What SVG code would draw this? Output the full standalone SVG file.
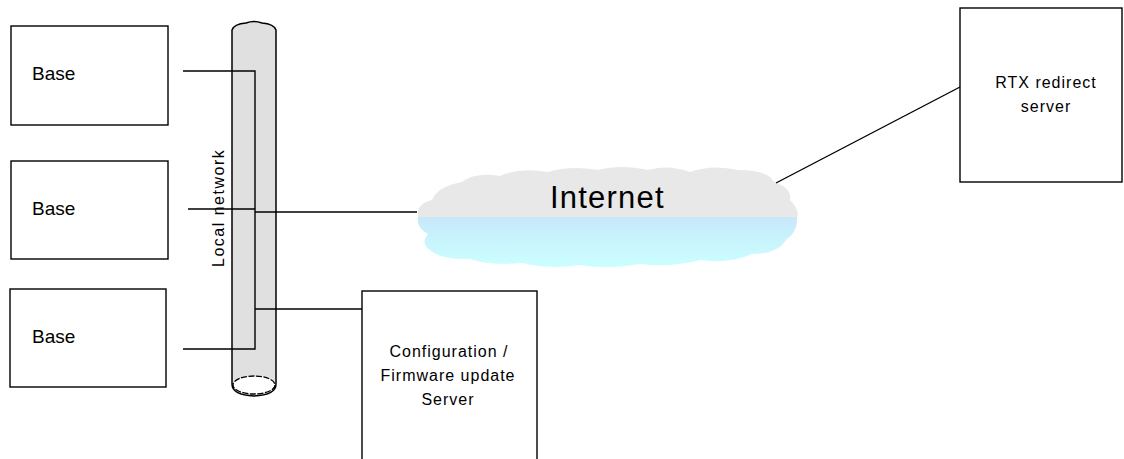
<svg xmlns="http://www.w3.org/2000/svg" width="1124" height="459" viewBox="0 0 1124 459">
<style>
.box{fill:#fff;stroke:#000;stroke-width:1.4}
.t{font-family:"Liberation Sans",Arial,sans-serif;fill:#000}
.lbl{font-size:16px;letter-spacing:1px}
.conn{fill:none;stroke:#000;stroke-width:1.4}
</style>
<defs>
<linearGradient id="cg" x1="0" y1="0" x2="0" y2="1">
<stop offset="0" stop-color="#e8e8e8"/>
<stop offset="0.5" stop-color="#e8e8e8"/>
<stop offset="0.5" stop-color="#c8e8fa"/>
<stop offset="0.7" stop-color="#c8f2fc"/>
<stop offset="1" stop-color="#ccffff"/>
</linearGradient>
</defs>
<rect width="1124" height="459" fill="#fff"/>
<g id="base1"><rect class="box" x="11" y="26" width="157" height="99"/><text class="t" x="32" y="80" font-size="19">Base</text></g>
<g id="base2"><rect class="box" x="11" y="161" width="157" height="98"/><text class="t" x="32" y="215" font-size="19">Base</text></g>
<g id="base3"><rect class="box" x="10" y="289" width="156" height="98"/><text class="t" x="32" y="343" font-size="19">Base</text></g>
<g id="localnet">
<path d="M232,30 L232,384 Q232,395 254,396 Q276,395 276,384 L276,30 Q274,24 262,23 Q254,20 246,23 Q234,24 232,30 Z" fill="#e0e0e0" stroke="#000" stroke-width="1.5"/>
<ellipse cx="254" cy="385" rx="21" ry="9" fill="#fff" stroke="#000" stroke-width="1.3" stroke-dasharray="6,1.5"/>
<text class="t" transform="translate(224,267) rotate(-90)" font-size="16" letter-spacing="1.5">Local network</text>
</g>
<g id="internet">
<path d="M418,216 Q416,204 432,200 Q438,186 462,182 Q475,172 500,176 Q520,167 548,172 Q570,165 598,170 Q620,164 648,170 Q668,164 690,172 Q712,164 738,170 Q768,170 774,182 Q792,188 790,200 Q800,210 797,218 Q798,232 786,240 Q778,254 752,254 Q730,264 700,260 Q670,268 640,264 Q610,270 580,265 Q550,270 522,263 Q490,266 470,259 Q440,260 430,250 Q420,244 428,234 Q416,228 418,216 Z" fill="url(#cg)"/>
<text class="t" x="550" y="208" font-size="31" letter-spacing="1.2">Internet</text>
</g>
<g id="config"><rect class="box" x="362" y="291" width="175" height="175"/>
<text class="t lbl" text-anchor="middle" x="449" y="357">Configuration /</text>
<text class="t lbl" text-anchor="middle" x="448" y="381">Firmware update</text>
<text class="t lbl" text-anchor="middle" x="448" y="405">Server</text>
</g>
<g id="rtx"><rect class="box" x="960" y="8" width="162" height="174"/>
<text class="t lbl" text-anchor="middle" x="1046" y="88">RTX redirect</text>
<text class="t lbl" text-anchor="middle" x="1046" y="112">server</text>
</g>
<g id="connectors">
<path class="conn" d="M183,71 H255 V349 H183"/>
<path class="conn" d="M188,209 H255"/>
<path class="conn" d="M255,212 H417"/>
<path class="conn" d="M255,309 H362"/>
<path class="conn" d="M776,183 L960,87"/>
</g>
</svg>
